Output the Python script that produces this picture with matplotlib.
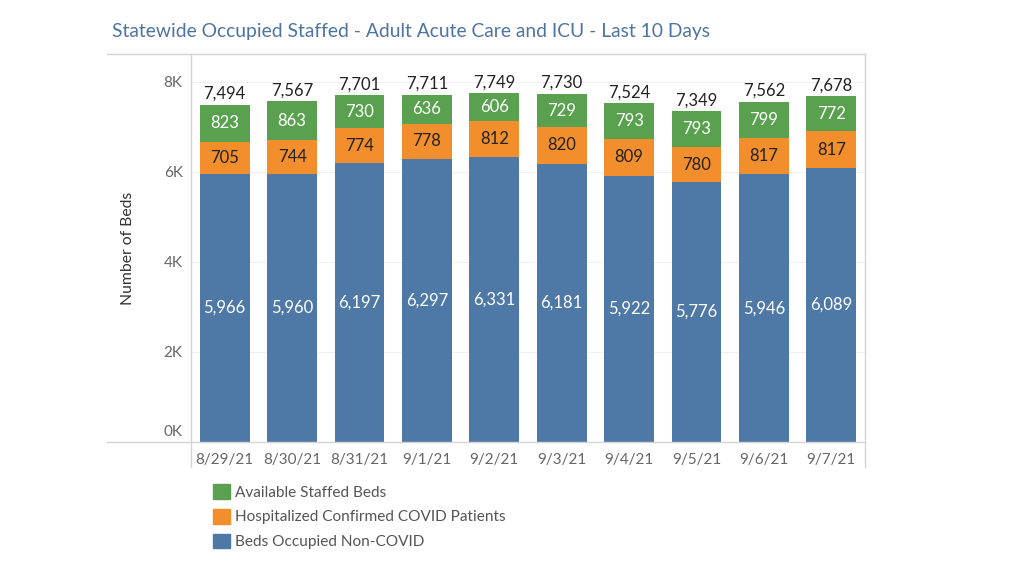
import matplotlib.pyplot as plt
from matplotlib.lines import Line2D
from matplotlib.patches import Patch
from matplotlib.transforms import ScaledTranslation
import numpy as np

plt.rcParams['font.family'] = ['Lato', 'DejaVu Sans']

dates = ['8/29/21', '8/30/21', '8/31/21', '9/1/21', '9/2/21',
         '9/3/21', '9/4/21', '9/5/21', '9/6/21', '9/7/21']
non_covid = [5966, 5960, 6197, 6297, 6331, 6181, 5922, 5776, 5946, 6089]
covid = [705, 744, 774, 778, 812, 820, 809, 780, 817, 817]
available = [823, 863, 730, 636, 606, 729, 793, 793, 799, 772]
totals = [7494, 7567, 7701, 7711, 7749, 7730, 7524, 7349, 7562, 7678]

blue = '#4e79a7'
orange = '#f28e2b'
green = '#59a14f'
line_col = '#d4d4d4'

fig = plt.figure(figsize=(10.24, 5.76), dpi=100)
ax = fig.add_axes([191 / 1024, 1 - 442 / 576, 674 / 1024, 388 / 576])

x = np.arange(len(dates))
w = 0.74
nc = np.array(non_covid)
cv = np.array(covid)
av = np.array(available)

ax.bar(x, nc, w, color=blue, zorder=3)
ax.bar(x, cv, w, bottom=nc, color=orange, zorder=3)
ax.bar(x, av, w, bottom=nc + cv, color=green, zorder=3)

fs = 12
for i in range(len(dates)):
    ax.text(x[i], nc[i] / 2, f'{nc[i]:,}', ha='center', va='center',
            color='white', fontsize=fs, zorder=4)
    ax.text(x[i], nc[i] + cv[i] / 2, f'{cv[i]:,}', ha='center', va='center',
            color='#222222', fontsize=fs, zorder=4)
    ax.text(x[i], nc[i] + cv[i] + av[i] / 2, f'{av[i]:,}', ha='center',
            va='center', color='white', fontsize=fs, zorder=4)
    ax.text(x[i], nc[i] + cv[i] + av[i] + 70, f'{totals[i]:,}', ha='center',
            va='bottom', color='#222222', fontsize=fs, zorder=4)

ax.set_xlim(-0.5, len(dates) - 0.5)
ax.set_ylim(0, 8622)
ax.set_yticks([0, 2000, 4000, 6000, 8000])
ax.set_yticklabels(['0K', '2K', '4K', '6K', '8K'])
ax.set_xticks(x)
ax.set_xticklabels(dates)
ax.tick_params(axis='y', length=0, labelsize=11, labelcolor='#666666', pad=6)
ax.tick_params(axis='x', length=0, labelsize=11, labelcolor='#666666', pad=8)
ax.grid(axis='y', color='#f0f0f0', lw=0.8, zorder=0)
for s in ax.spines.values():
    s.set_visible(False)

# Tableau lifts the 0K label above the baseline
zero_lbl = ax.get_yticklabels()[0]
zero_lbl.set_transform(zero_lbl.get_transform() +
                       ScaledTranslation(0, 0.11, fig.dpi_scale_trans))

ax.set_ylabel('Number of Beds', fontsize=11.3, color='#333333', labelpad=21)

# frame lines, Tableau style
fig.add_artist(Line2D([107 / 1024, 865 / 1024], [1 - 54 / 576] * 2,
                      color=line_col, lw=1))
fig.add_artist(Line2D([107 / 1024, 865 / 1024], [1 - 442 / 576] * 2,
                      color=line_col, lw=1))
fig.add_artist(Line2D([191 / 1024] * 2, [1 - 54 / 576, 1 - 467 / 576],
                      color=line_col, lw=1))
fig.add_artist(Line2D([865 / 1024] * 2, [1 - 54 / 576, 1 - 467 / 576],
                      color=line_col, lw=1))

fig.text(112 / 1024, 1 - 31 / 576,
         'Statewide Occupied Staffed - Adult Acute Care and ICU - Last 10 Days',
         fontsize=13.9, color='#4e74a0', va='center', ha='left')

handles = [Patch(color=green, label='Available Staffed Beds'),
           Patch(color=orange, label='Hospitalized Confirmed COVID Patients'),
           Patch(color=blue, label='Beds Occupied Non-COVID')]
leg = fig.legend(handles=handles, loc='upper left',
                 bbox_to_anchor=(199 / 1024, 1 - 470 / 576), frameon=False,
                 fontsize=11.1, handlelength=1.1, handleheight=1.1,
                 handletextpad=0.35, labelspacing=0.6)
for t in leg.get_texts():
    t.set_color('#555555')

fig.savefig('out.png', dpi=100)
